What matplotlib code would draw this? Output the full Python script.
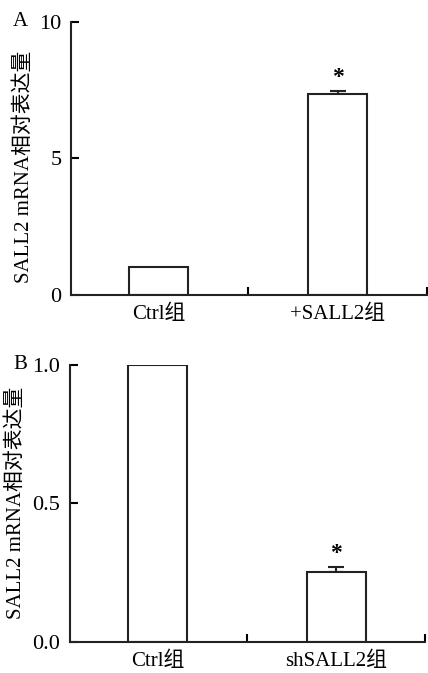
import matplotlib
matplotlib.use("Agg")
import matplotlib.pyplot as plt
import numpy as np

# panel A: overexpression
groups_a = ["Ctrl组", "+SALL2组"]
values_a = [1.0, 7.33]
errors_a = [0.0, 0.14]
yticks_a = [0, 5, 10]

# panel B: knockdown
groups_b = ["Ctrl组", "shSALL2组"]
values_b = [1.0, 0.253]
errors_b = [0.0, 0.016]
yticks_b = [0.0, 0.5, 1.0]
yticklabels_b = ["0.0", "0.5", "1.0"]

ylabel = "SALL2 mRNA相对表达量"
fam = ["Liberation Serif", "Noto Sans CJK SC"]
plt.rcParams["font.family"] = fam
plt.rcParams["font.size"] = 15

fig = plt.figure(figsize=(4.28, 6.73), dpi=100)


def draw_panel(ax, groups, values, errors, yticks, yticklabels, ylim, letter, star_idx):
    x = np.arange(len(groups))
    lw = 1.5
    ax.bar(x, values, width=0.33, color="white", edgecolor="#222222", linewidth=lw,
           zorder=2)
    for i in x:
        if errors[i] > 0:
            ax.errorbar(x[i], values[i], yerr=[[0], [errors[i]]], fmt="none",
                        ecolor="#222222", elinewidth=lw, capsize=6, capthick=lw, zorder=1)
    for i in star_idx:
        ax.annotate("*", (x[i], values[i] + errors[i]), xytext=(0, 2),
                    textcoords="offset points", ha="center", va="bottom", fontsize=17,
                    fontweight="bold")
    ax.set_xlim(-0.49, 1.5)
    ax.set_ylim(*ylim)
    ax.set_xticks(x)
    ax.set_xticklabels(groups, fontsize=15)
    ax.set_xticks([0.5, 1.5], minor=True)
    ax.tick_params(axis="x", which="major", length=0, pad=7)
    ax.tick_params(axis="x", which="minor", direction="in", length=6, width=lw)
    ax.set_yticks(yticks)
    ax.set_yticklabels(yticklabels, fontsize=16)
    ax.tick_params(axis="y", direction="in", length=6, width=lw, pad=7)
    for s in ["top", "right"]:
        ax.spines[s].set_visible(False)
    for s in ["left", "bottom"]:
        ax.spines[s].set_linewidth(lw)
        ax.spines[s].set_color("#222222")
    ax.set_ylabel(ylabel, fontsize=15)
    ax.text(-0.12, 1.0, letter, transform=ax.transAxes, ha="right", va="center",
            fontsize=15)


ax1 = fig.add_axes([0.166, 0.562, 0.832, 0.406])
draw_panel(ax1, groups_a, values_a, errors_a, yticks_a, [str(t) for t in yticks_a],
           (0, 10), "A", [1])
ax1.yaxis.set_label_coords(-0.105, 0.47)

ax2 = fig.add_axes([0.164, 0.0465, 0.83, 0.4116])
draw_panel(ax2, groups_b, values_b, errors_b, yticks_b, yticklabels_b,
           (0, 1.0), "B", [1])
ax2.yaxis.set_label_coords(-0.125, 0.5)

fig.savefig("out.png", dpi=100)
